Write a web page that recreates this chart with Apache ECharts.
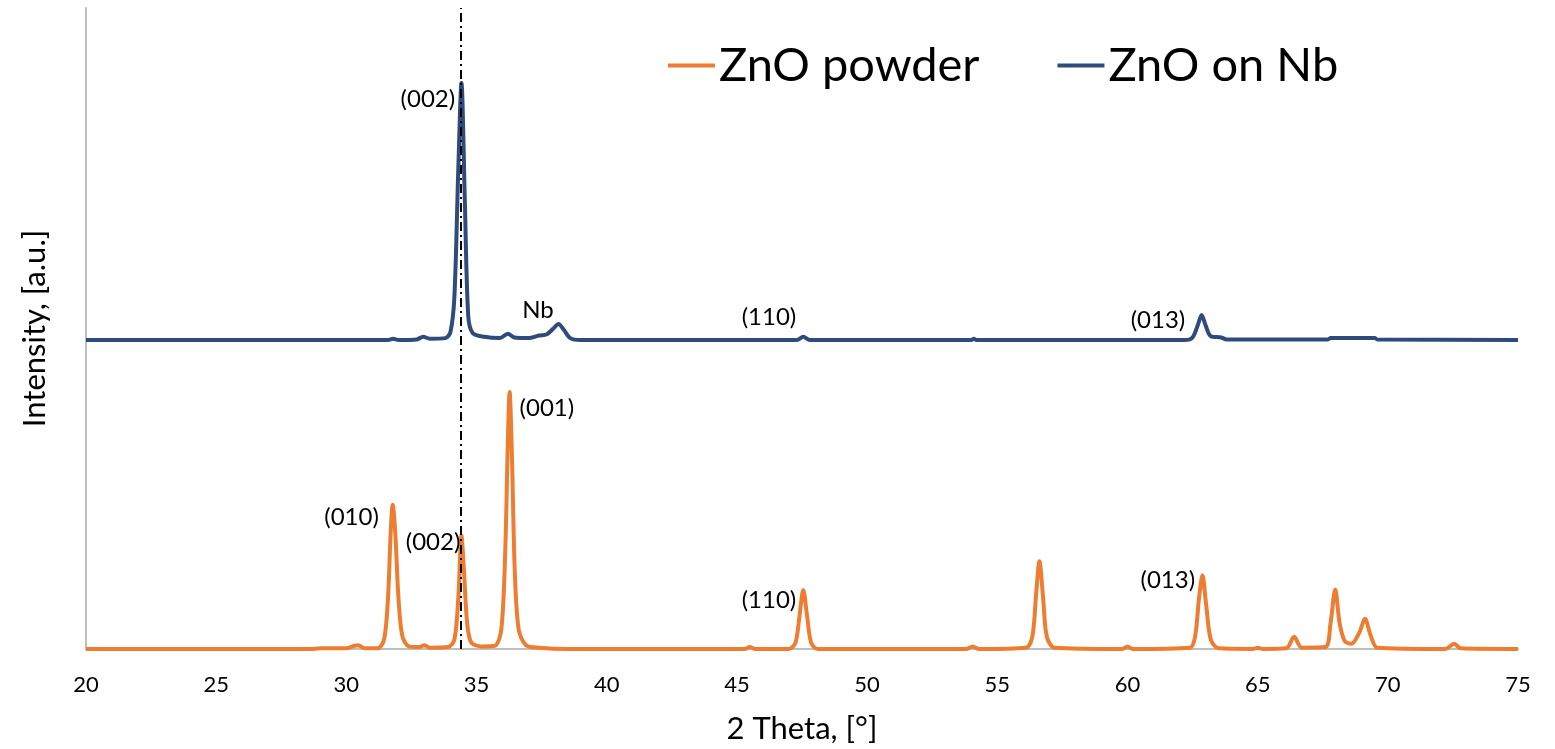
<!DOCTYPE html>
<html>
<head>
<meta charset="utf-8">
<script src="https://cdn.jsdelivr.net/npm/echarts@6/dist/echarts.min.js"></script>
<style>
  html, body { margin: 0; padding: 0; background: #fff; }
  #xrd { width: 1555px; height: 749px; }
</style>
</head>
<body>
<div id="xrd"></div>
<script>
var myChart = echarts.init(document.getElementById('xrd'));

// ZnO powder, [2theta, intensity]
let powderData = [
  [20,0],[28.6,0],[29,0.1],[30.0,0.1],[30.3,0.5],[30.45,0.6],[30.7,0.1],[31.2,0.1],
  [31.45,1.5],[31.6,8],[31.7,18],[31.78,22.5],[31.88,18],[32.0,8],[32.15,2],[32.4,0.4],
  [32.8,0.3],[33.0,0.6],[33.2,0.2],[33.9,0.3],[34.15,1.5],[34.3,8],[34.42,17.7],[34.52,12],
  [34.64,4],[34.8,1],[35.2,0.4],[35.7,0.5],[35.95,3],[36.1,15],[36.2,32],[36.27,40.1],
  [36.36,30],[36.47,12],[36.62,3],[36.9,0.6],[37.4,0.2],[38.5,0],[45.3,0],[45.5,0.3],
  [45.7,0],[47.0,0],[47.25,1],[47.4,5],[47.55,9.2],[47.7,5],[47.85,1],[48.1,0],
  [53.8,0],[54.05,0.4],[54.3,0],[56.1,0.2],[56.35,2],[56.5,9],[56.62,13.7],[56.76,8],
  [56.9,2],[57.2,0.2],[59.8,0],[60.0,0.4],[60.2,0],[62.4,0.2],[62.6,2],[62.75,8],
  [62.88,11.5],[63.02,7],[63.2,1.5],[63.5,0.1],[64.8,0],[65.0,0.2],[65.2,0],[66.1,0.1],
  [66.4,1.9],[66.7,0.2],[67.6,0.3],[67.8,4],[67.98,9.3],[68.15,4],[68.35,1.2],[68.6,0.8],
  [68.9,2.5],[69.12,4.7],[69.35,2],[69.6,0.2],[72.2,0],[72.55,0.8],[72.8,0.1],[75,0]
];

// ZnO on Nb, offset upward in the plot
let nbData = [
  [20,48.2],[31.6,48.2],[31.8,48.4],[32.0,48.2],[32.7,48.3],[32.95,48.7],[33.2,48.4],
  [33.8,48.5],[34.0,49.5],[34.15,55],[34.3,75],[34.42,88.3],[34.55,70],[34.68,52],
  [34.85,49.3],[35.3,48.7],[35.9,48.5],[36.2,49.2],[36.45,48.6],[37.0,48.5],[37.4,48.9],
  [37.7,49.1],[37.95,50.0],[38.15,50.7],[38.35,49.8],[38.6,48.5],[39,48.2],[47.3,48.2],
  [47.55,48.7],[47.8,48.2],[54.0,48.2],[54.1,48.4],[54.2,48.2],[62.2,48.2],[62.5,48.6],
  [62.7,50.5],[62.85,52.1],[63.0,50.5],[63.2,48.8],[63.6,48.6],[63.8,48.3],[67.7,48.3],
  [67.8,48.5],[69.5,48.5],[69.6,48.3],[75,48.2]
];

let powderLabels = ['(010)', '(002)', '(001)', '(110)', '(013)'];
let powderLabelAt = [[30.2,20.5],[33.33,16.6],[37.7,37.6],[46.23,7.6],[61.55,10.7]];
let nbLabels = ['(002)', 'Nb', '(110)', '(013)'];
let nbLabelAt = [[33.13,85.7],[37.36,52.9],[46.23,51.8],[61.17,51.3]];

let refLine = 34.4;

function labelPoints(names, at) {
  return names.map(function (n, i) {
    return { name: n, coord: at[i], value: n };
  });
}

var font = 'Lato, "Open Sans", sans-serif';
var labelStyle = {
  show: true, position: 'inside', formatter: '{b}',
  color: '#000', fontSize: 24, fontFamily: font
};

var option = {
  animation: false,
  grid: { left: 86, right: 37, top: 8, bottom: 98 },
  legend: {
    data: ['ZnO powder', 'ZnO on Nb'],
    left: 663, top: 37,
    icon: 'rect', itemWidth: 47, itemHeight: 4, itemGap: 78,
    textStyle: { fontSize: 47, fontFamily: font, color: '#000', padding: [0, 0, 0, -1] }
  },
  xAxis: {
    type: 'value', min: 20, max: 75, interval: 5,
    name: '2 Theta, [°]', nameLocation: 'middle', nameGap: 64,
    nameTextStyle: { fontSize: 31, fontFamily: font, color: '#000' },
    axisLine: { lineStyle: { color: '#BFBFBF', width: 2 } },
    axisTick: { show: false },
    splitLine: { show: false },
    axisLabel: { fontSize: 22, fontFamily: font, color: '#000', margin: 25 }
  },
  yAxis: {
    type: 'value', min: 0, max: 100,
    name: 'Intensity, [a.u.]', nameLocation: 'middle', nameGap: 36,
    nameTextStyle: { fontSize: 31, fontFamily: font, color: '#000' },
    axisLine: { show: true, lineStyle: { color: '#BFBFBF', width: 2 } },
    axisTick: { show: false },
    axisLabel: { show: false },
    splitLine: { show: false }
  },
  series: [
    {
      name: 'ZnO powder', type: 'line', data: powderData,
      showSymbol: false, smooth: 0.3, color: '#ED7D31',
      lineStyle: { width: 4, color: '#ED7D31' },
      markPoint: {
        symbol: 'circle', symbolSize: 0, label: labelStyle,
        data: labelPoints(powderLabels, powderLabelAt)
      },
      markLine: {
        silent: true, symbol: 'none', label: { show: false },
        lineStyle: { color: '#000', width: 2, type: [9, 4, 2, 4] },
        data: [{ xAxis: refLine }]
      }
    },
    {
      name: 'ZnO on Nb', type: 'line', data: nbData,
      showSymbol: false, smooth: 0.3, color: '#2F4B7C',
      lineStyle: { width: 4, color: '#2F4B7C' },
      markPoint: {
        symbol: 'circle', symbolSize: 0, label: labelStyle,
        data: labelPoints(nbLabels, nbLabelAt)
      }
    }
  ]
};
myChart.setOption(option);
</script>
</body>
</html>
